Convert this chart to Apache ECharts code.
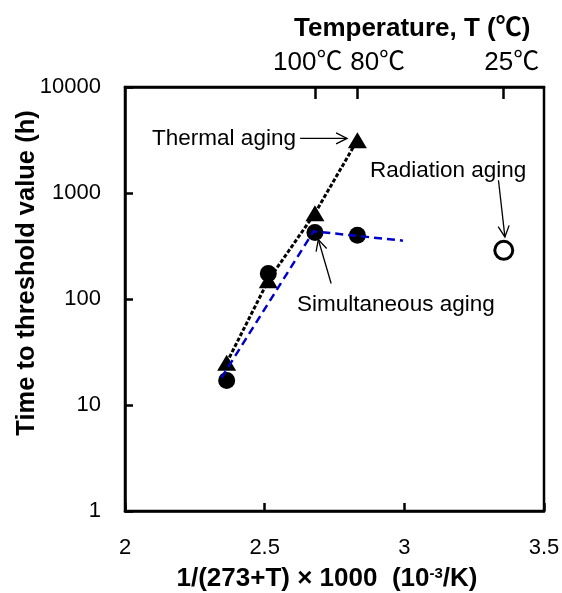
<!DOCTYPE html>
<html><head><meta charset="utf-8">
<script src="https://cdn.jsdelivr.net/npm/echarts@6/dist/echarts.min.js"></script>
<style>html,body{margin:0;padding:0;background:#fff}#c{width:562px;height:593px}</style>
</head><body><div id="c"></div>
<script>
// ---- data ----
const thermalX = [2.364, 2.513, 2.680, 2.832];
const thermalY = [25, 150, 645, 3150];
const simulX = [2.364, 2.513, 2.680, 2.832];
const simulY = [17, 174, 424, 400];
const radiationX = [3.356];
const radiationY = [288];
const simulFitX = [2.345, 2.675, 2.995];
const simulFitY = [18, 435, 355];
const xTicks = [2, 2.5, 3, 3.5];
const yTicks = [1, 10, 100, 1000, 10000];
const topTemps = [100, 80, 25];
const topLabels = ['100℃', '80℃', '25℃'];
const labelThermal = 'Thermal aging';
const labelRadiation = 'Radiation aging';
const labelSimul = 'Simultaneous aging';

// ---- build ----
const FONT = "'Liberation Sans', Arial, 'Noto Sans CJK JP', sans-serif";
const topValues = topTemps.map(t => 1000 / (273 + t));
const pairs = (xs, ys) => xs.map((x, i) => [x, ys[i]]);

const chart = echarts.init(document.getElementById('c'), null, {renderer: 'canvas'});
const option = {
  animation: false,
  backgroundColor: '#fff',
  title: {
    text: 'Temperature, T (℃)',
    left: 289, top: 11,
    textStyle: {fontFamily: FONT, fontSize: 26, fontWeight: 'bold', color: '#000'}
  },
  grid: {left: 125, right: 18, top: 87, bottom: 82, show: true, borderColor: '#000', borderWidth: 2.5, containLabel: false, outerBoundsMode: 'none'},
  xAxis: [{
    type: 'value', min: xTicks[0], max: xTicks[xTicks.length - 1], interval: xTicks[1] - xTicks[0],
    position: 'bottom',
    axisLine: {lineStyle: {color: '#000', width: 2.5}},
    axisTick: {inside: true, length: 8, lineStyle: {color: '#000', width: 2.5}},
    splitLine: {show: false},
    axisLabel: {fontFamily: FONT, fontSize: 22, color: '#000', margin: 26, formatter: v => String(v)},
    name: '{a|1/(273+T) × 1000  (10}{s|-3}{a|/K)}',
    nameLocation: 'middle', nameGap: 55, nameMoveOverlap: false,
    nameTextStyle: {
      padding: [0, 15, 0, 0],
      rich: {
        a: {fontFamily: FONT, fontSize: 26, fontWeight: 'bold', color: '#000'},
        s: {fontFamily: FONT, fontSize: 15, fontWeight: 'bold', color: '#000', verticalAlign: 'top', padding: [0, 0, 10, 0]}
      }
    }
  }, {
    type: 'value', min: xTicks[0], max: xTicks[xTicks.length - 1],
    position: 'top',
    axisLine: {show: true, lineStyle: {color: '#000', width: 2.5}},
    axisTick: {show: true, inside: true, length: 12, customValues: topValues, lineStyle: {color: '#000', width: 2.5}},
    splitLine: {show: false},
    axisLabel: {
      show: true, customValues: topValues, margin: 11,
      formatter: v => {
        let k = 0, best = 1e9;
        topValues.forEach((t, i) => { if (Math.abs(t - v) < best) { best = Math.abs(t - v); k = i; } });
        return '{t' + k + '|' + topLabels[k] + '}';
      },
      rich: {
        t0: {fontFamily: FONT, fontSize: 26, color: '#000', padding: [0, 15, 0, 0]},
        t1: {fontFamily: FONT, fontSize: 26, color: '#000', padding: [0, 0, 0, 40]},
        t2: {fontFamily: FONT, fontSize: 26, color: '#000', padding: [0, 0, 0, 16]}
      }
    }
  }],
  yAxis: [{
    type: 'log', logBase: 10, min: yTicks[0], max: yTicks[yTicks.length - 1],
    axisLine: {lineStyle: {color: '#000', width: 2.5}},
    axisTick: {inside: true, length: 8, lineStyle: {color: '#000', width: 2.5}},
    splitLine: {show: false},
    minorTick: {show: false},
    axisLabel: {fontFamily: FONT, fontSize: 22, color: '#000', margin: 24, formatter: v => String(Math.round(v))},
    name: 'Time to threshold value (h)',
    nameLocation: 'middle', nameGap: 85, nameMoveOverlap: false,
    nameTextStyle: {fontFamily: FONT, fontSize: 25.5, fontWeight: 'bold', color: '#000', padding: [0, 0, 0, 52]}
  }],
  series: [
    {type: 'scatter', name: 'Thermal', data: pairs(thermalX, thermalY), symbol: 'triangle', symbolSize: [19, 16],
     itemStyle: {color: '#000', opacity: 1}, silent: true},
    {type: 'scatter', name: 'Simultaneous', data: pairs(simulX, simulY), symbol: 'circle', symbolSize: 17,
     itemStyle: {color: '#000', opacity: 1}, silent: true},
    {type: 'scatter', name: 'Radiation', data: pairs(radiationX, radiationY), symbol: 'circle', symbolSize: 18,
     itemStyle: {color: '#fff', borderColor: '#000', borderWidth: 3, opacity: 1}, silent: true},
    {type: 'line', name: 'Thermal line', data: pairs(thermalX, thermalY), symbol: 'none', showSymbol: false,
     lineStyle: {color: '#000', width: 3, type: [4, 2]}, silent: true},
    {type: 'line', name: 'Simultaneous fit', data: pairs(simulFitX, simulFitY), symbol: 'none', showSymbol: false,
     lineStyle: {color: '#0000CC', width: 2.5, type: [8, 5]}, silent: true}
  ]
};
chart.setOption(option);

// ---- annotations (placed in data coordinates, converted through the chart's scales) ----
const notes = [
  {text: labelThermal, at: [2.097, 3275], arrow: [[2.627, 3275], [2.795, 3275]]},
  {text: labelRadiation, at: [2.877, 1636], arrow: [[3.337, 1318], [3.360, 385]]},
  {text: labelSimul, at: [2.616, 88], arrow: [[2.738, 140], [2.692, 364]]}
];
const toPx = p => chart.convertToPixel({xAxisIndex: 0, yAxisIndex: 0}, p);
const elements = [];
notes.forEach(n => {
  const p = toPx(n.at);
  elements.push({type: 'text', x: p[0], y: p[1], silent: true,
    style: {text: n.text, x: 0, y: 0, fill: '#000', font: "22.5px " + FONT, fontSize: 22.5, fontFamily: FONT,
            align: 'left', verticalAlign: 'middle', textAlign: 'left', textVerticalAlign: 'middle'}});
  const a = toPx(n.arrow[0]), b = toPx(n.arrow[1]);
  const dx = b[0] - a[0], dy = b[1] - a[1], L = Math.hypot(dx, dy);
  const ux = dx / L, uy = dy / L, nx = -uy, ny = ux, hl = 11, hw = 5.5;
  elements.push({type: 'polyline', silent: true, shape: {points: [a, b]}, style: {stroke: '#000', lineWidth: 1.3, fill: null}});
  elements.push({type: 'polyline', silent: true,
    shape: {points: [[b[0] - ux * hl + nx * hw, b[1] - uy * hl + ny * hw], b, [b[0] - ux * hl - nx * hw, b[1] - uy * hl - ny * hw]]},
    style: {stroke: '#000', lineWidth: 1.3, fill: null}});
});
chart.setOption({graphic: {elements: elements}});
</script>
</body></html>
